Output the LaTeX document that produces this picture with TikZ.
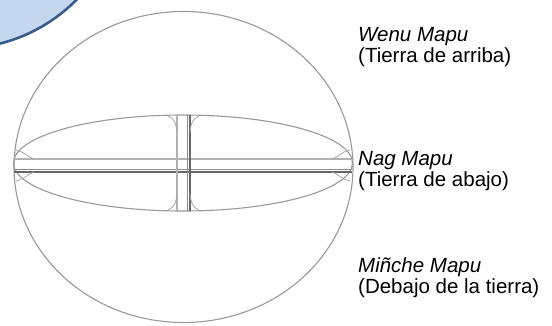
\documentclass[tikz,border=0pt]{standalone}
\usepackage{fontspec}
\setmainfont{Liberation Sans}
\definecolor{tabfill}{RGB}{197,215,238}
\definecolor{tabline}{RGB}{56,92,140}
\tikzset{
  globe/.style={draw=black!40, line width=1.1pt},
  barlight/.style={draw=black!30, line width=1.6pt},
  bardark/.style={draw=black!60, line width=1.8pt},
  flare/.style={draw=black!35, line width=0.8pt},
  mapulabel/.style={anchor=base west, inner sep=0pt, font=\fontsize{20.5}{22}\selectfont},
}
\begin{document}
\begin{tikzpicture}[x=1pt, y=-1pt]

  \useasboundingbox (0,0) rectangle (552,326);
  \clip (0,0) rectangle (552,326);
  \fill[white] (0,0) rectangle (552,326);

  % --- blue tab (corner) ---
  \draw[fill=tabfill, draw=tabline, line width=2.6pt] (-40,-115) circle (163.5);

  % --- outer sphere ---
  \draw[globe] (183.5,167) ellipse (169.5 and 155.5);

  % --- inner disc ---
  \draw[globe] (183,163) ellipse (169.5 and 48);

  % --- horizontal bar ---
  \draw[barlight] (14,159) -- (352,159);
  \draw[draw=black!45, line width=0.8pt] (14,169) -- (352,169);
  \draw[bardark] (14,172) -- (352,172);

  % --- vertical bar ---
  \draw[barlight] (177,115) -- (177,211);
  \draw[draw=black!45, line width=0.8pt] (187.5,115) -- (187.5,211);
  \draw[bardark] (190,115) -- (190,211);

  % --- flares of the vertical bar ---
  \draw[flare] (168,116) to[out=-20, in=95] (177,132);
  \draw[flare] (199,116) to[out=200, in=85] (190,132);
  \draw[flare] (168,210) to[out=20, in=-95] (177,194);
  \draw[flare] (199,210) to[out=160, in=-85] (190,194);

  % --- flares of the horizontal bar ---
  \draw[flare] (16,150) to[out=-10, in=160] (34,159);
  \draw[flare] (16,181) to[out=10, in=200] (34,172);
  \draw[flare] (350,150) to[out=190, in=20] (332,159);
  \draw[flare] (350,181) to[out=170, in=-20] (332,172);

  % --- labels ---
  \node[mapulabel] (wenu) at (358,42) {\itshape Wenu Mapu};
  \node[mapulabel] (wenuSub) at (358,63) {(Tierra de arriba)};
  \node[mapulabel] (nag) at (358,166) {\itshape Nag Mapu};
  \node[mapulabel] (nagSub) at (358,187) {(Tierra de abajo)};
  \node[mapulabel] (minche) at (358,272) {\itshape Miñche Mapu};
  \node[mapulabel] (mincheSub) at (358,293) {(Debajo de la tierra)};

\end{tikzpicture}
\end{document}
